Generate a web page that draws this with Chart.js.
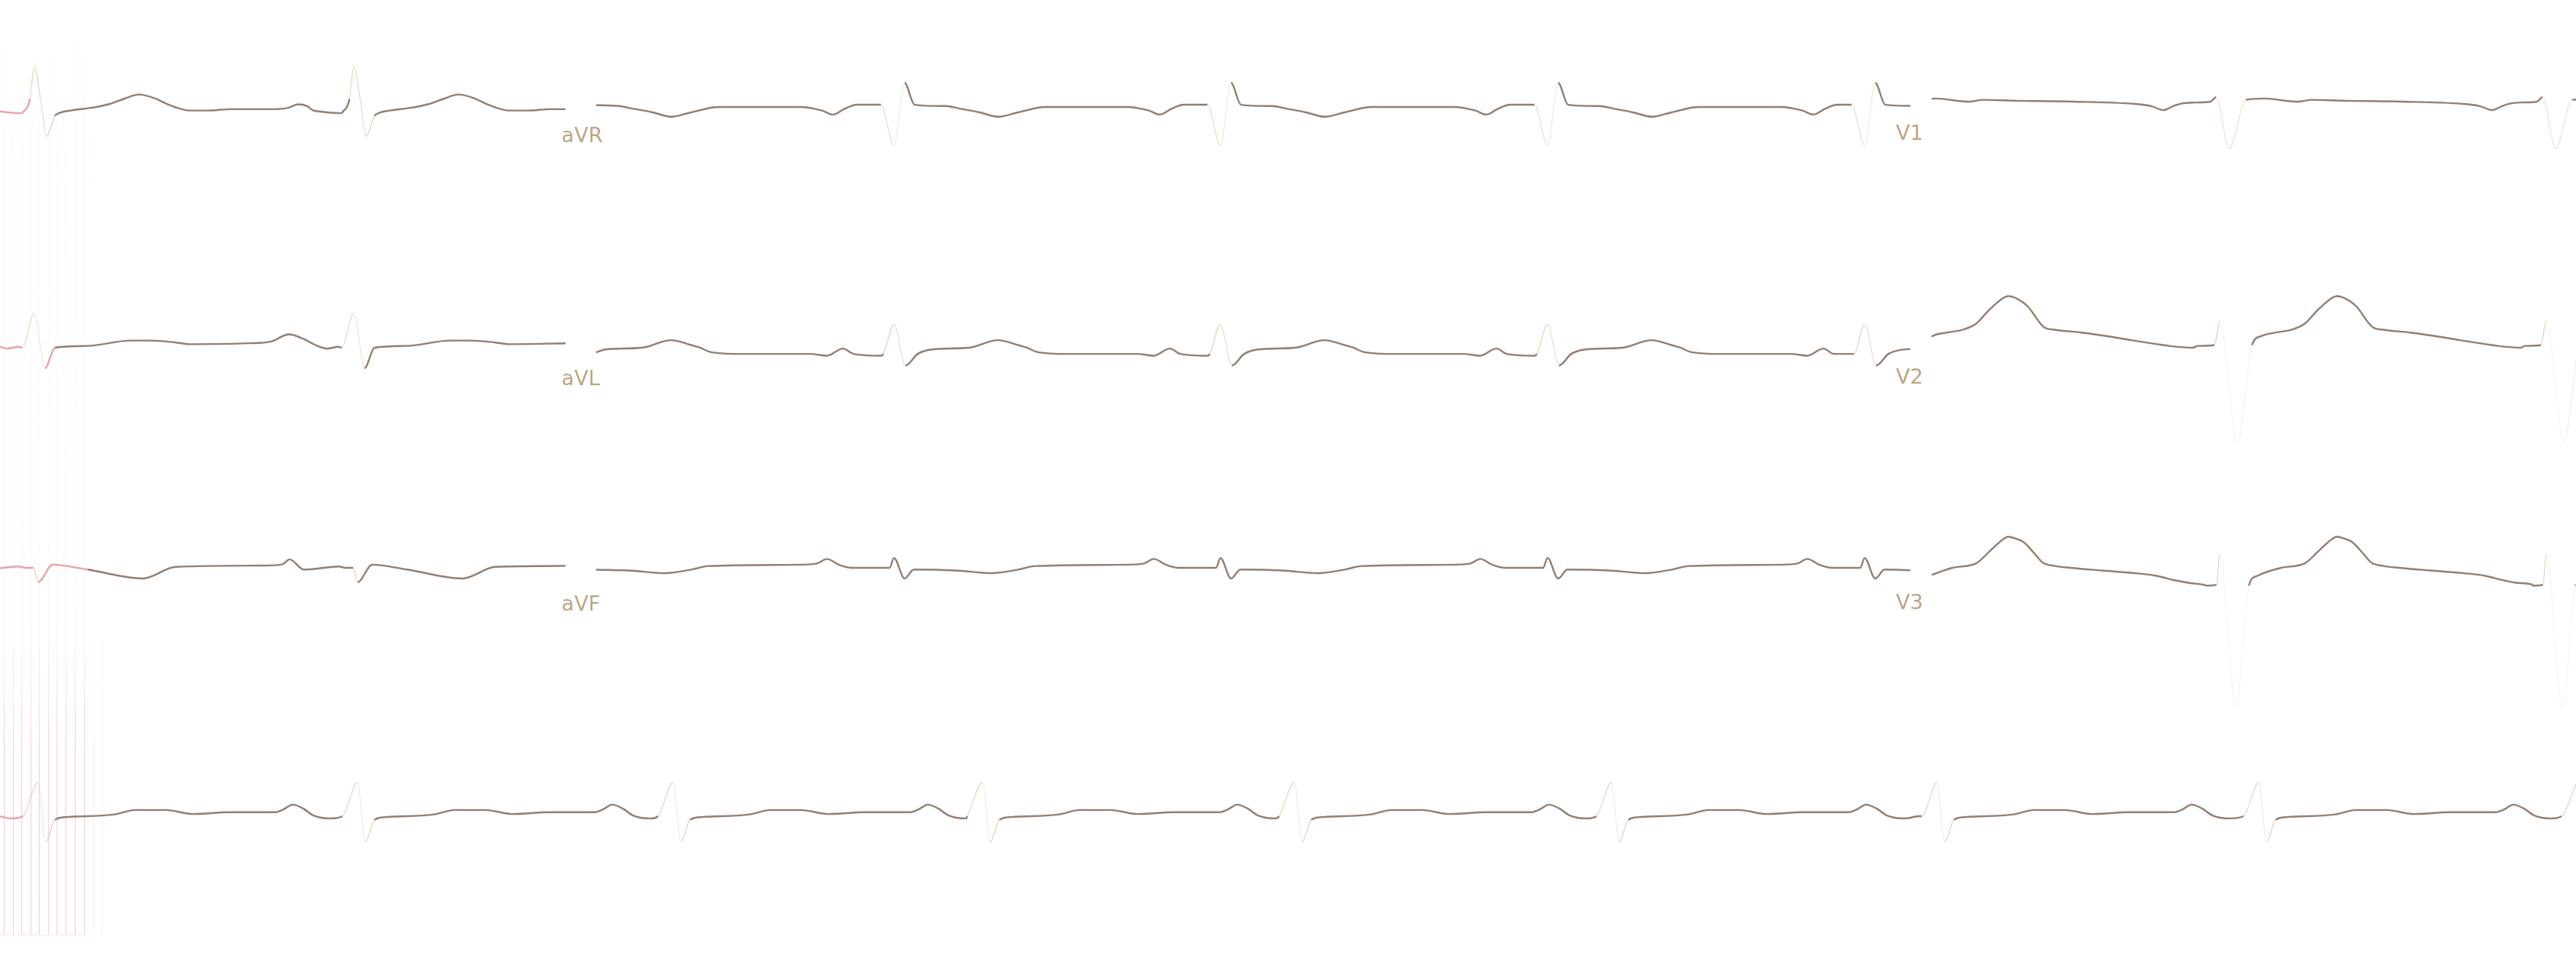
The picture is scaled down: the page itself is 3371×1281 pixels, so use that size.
<!DOCTYPE html>
<html>
<head>
<meta charset="utf-8">
<style>
html,body{margin:0;padding:0;background:#fff;overflow:hidden}
#wrap{position:relative;width:3371px;height:1281px;background:#fff}
canvas{display:block}
</style>
<script src="https://cdn.jsdelivr.net/npm/chart.js@4/dist/chart.umd.min.js"></script>
</head>
<body>
<div id="wrap"><canvas id="ecg" width="3371" height="1281"></canvas></div>
<script>
// ---------------- DATA (time in s / ms, amplitude in mV) ----------------
// Lead layout of the three upper rows (columns 1..3) and the rhythm strip
const ROW_LEADS = [["I", "aVR", "V1"], ["II", "aVL", "V2"], ["III", "aVF", "V3"]];
const RHYTHM_LEAD = "II";
const LEAD_LABELS = ["aVR", "aVL", "aVF", "V1", "V2", "V3"];

// column time spans (s)
const COL_START = [0, 2.690, 8.717];
const COL_END = [2.552, 8.620, 11.624];

// R-wave times (s) read for every column and for the rhythm strip
const COL1_BEATS = [-1.290, 0.155, 1.597];
const COL2_BEATS = [2.559, 4.034, 5.507, 6.983, 8.414];
const COL3_BEATS = [8.534, 10.017, 11.490];
const RHYTHM_BEATS = [-1.269, 0.172, 1.614, 3.038, 4.434, 5.841, 7.272, 8.741, 10.193, 11.628];

// per-beat waveforms: [ms from R, mV]
const LEAD_I = [[-52,0],[-20,0.15],[0,0.52],[28,0.15],[55,-0.27],[93,-0.04],[110,-0.01],[162,0.02],[255,0.05],[334,0.09],[403,0.15],[472,0.20],[541,0.16],[593,0.10],[645,0.05],[697,0.02],[783,0.02],[886,0.035],[1076,0.035],[1145,0.05],[1190,0.09],[1231,0.07],[1255,0.025],[1283,0.01],[1386,-0.01]];
const LEAD_II = [[-55,0],[0,0.39],[48,-0.23],[93,0],[238,0.02],[434,0.08],[528,0.08],[634,0.06],[700,0.04],[966,0.05],[1069,0.07],[1148,0.15],[1214,0.10],[1269,0.03],[1321,-0.01],[1372,0.01]];
const LEAD_III = [[-40,0],[-4,0],[17,-0.16],[83,0.035],[241,-0.02],[489,-0.12],[638,0.01],[1031,0.025],[1120,0.04],[1151,0.095],[1217,-0.02],[1376,0.015]];
const LEAD_AVR = [[-59,0.025],[0,-0.43],[48,0.27],[93,0.025],[234,0.01],[300,-0.02],[386,-0.06],[472,-0.11],[560,-0.06],[683,0],[1055,0],[1150,-0.04],[1200,-0.085],[1252,-0.02],[1307,0.025],[1400,0.025]];
const LEAD_AVL = [[-48,0],[0,0.33],[52,-0.13],[107,0],[172,0.05],[338,0.07],[469,0.155],[560,0.10],[600,0.07],[650,0.02],[790,0],[1100,0],[1172,-0.02],[1245,0.06],[1293,0],[1417,-0.02]];
const LEAD_AVF = [[-79,0],[-20,0],[0,0.11],[48,-0.12],[90,-0.02],[279,-0.03],[440,-0.06],[560,-0.02],[638,0.02],[1052,0.035],[1130,0.05],[1172,0.10],[1230,0.03],[1283,0],[1407,0]];
const LEAD_V1 = [[-117,-0.01],[-42,0],[-17,0.05],[42,-0.53],[117,0.02],[200,0.035],[352,0],[413,0.02],[566,0.01],[821,0],[1093,-0.025],[1173,-0.05],[1228,-0.095],[1273,-0.05],[1311,-0.02],[1383,0]];
const LEAD_V2 = [[-100,0.02],[-25,0.03],[0,0.30],[79,-1.06],[145,0.03],[186,0.13],[250,0.17],[320,0.20],[383,0.27],[440,0.42],[500,0.55],[528,0.58],[560,0.56],[614,0.47],[690,0.23],[745,0.20],[860,0.17],[1000,0.12],[1083,0.085],[1200,0.04],[1255,0.02],[1360,0]];
const LEAD_V3 = [[-60,-0.2],[-15,-0.19],[0,0.15],[72,-1.57],[131,-0.2],[169,-0.09],[276,0],[383,0.05],[450,0.2],[510,0.33],[528,0.35],[560,0.33],[597,0.29],[650,0.15],[683,0.06],[740,0.02],[810,0],[950,-0.03],[1100,-0.06],[1197,-0.09],[1279,-0.14],[1345,-0.17],[1410,-0.19]];
const RHYTHM_II = [[-69,0],[0,0.38],[34,-0.29],[76,-0.04],[128,-0.01],[345,0.02],[438,0.07],[576,0.07],[700,0.025],[862,0.045],[1069,0.045],[1110,0.08],[1148,0.13],[1197,0.085],[1241,0.01],[1321,-0.025],[1390,0]];

// baseline level of each printed segment relative to its row (mV)
const SEG_SHIFT = [[0, 0.06, 0.12], [0, -0.07, 0], [0, 0, 0]];
// calibration grid lines at the left edge (s)
const CAL_GRID_X = [0.017,0.059,0.097,0.138,0.176,0.217,0.255,0.297,0.338,0.379,0.421,0.459];

// ---------------- LAYOUT ----------------
const X_MAX = 11.624, Y_MAX = 11.0;          // paper extent (s, mV)
const ROW_BASE = [9.738, 7.093, 4.620, 1.829]; // stacking offsets of the four rows (mV)
const LABEL_X = [2.534, 8.555];               // label x (s) for columns 2 and 3
const LABEL_DY = [[39, 36], [49, 47], [56, 54]]; // px below row baseline

const TEMPLATES = { I: LEAD_I, II: LEAD_II, III: LEAD_III, aVR: LEAD_AVR, aVL: LEAD_AVL, aVF: LEAD_AVF, V1: LEAD_V1, V2: LEAD_V2, V3: LEAD_V3 };
const COL_BEATS = [COL1_BEATS, COL2_BEATS, COL3_BEATS];

function lerp(a, b, t) { return a[1] + (b[1] - a[1]) * (t - a[0]) / (b[0] - a[0]); }

function buildTrace(tpl, beats, t0, t1, base) {
  const lead = tpl[0][0] / 1000;
  const raw = [];
  beats.forEach((R, i) => {
    const ws = R + lead;
    const we = i + 1 < beats.length ? beats[i + 1] + lead : Infinity;
    tpl.forEach(([ms, v]) => {
      const t = R + ms / 1000;
      if (t >= ws && t < we) raw.push([t, base + v]);
    });
  });
  const out = [];
  for (let k = 0; k < raw.length; k++) {
    const [t, v] = raw[k];
    if (t < t0) {
      if (k + 1 < raw.length && raw[k + 1][0] > t0) out.push({ x: t0, y: lerp(raw[k], raw[k + 1], t0) });
      continue;
    }
    if (t > t1) {
      if (k > 0 && raw[k - 1][0] < t1) out.push({ x: t1, y: lerp(raw[k - 1], raw[k], t1) });
      break;
    }
    out.push({ x: t, y: v });
  }
  return out;
}

const INK = 'rgb(146,127,116)';
const PINK = 'rgba(228,146,152,0.85)';

function steepAlpha(ctx) {
  const dx = Math.abs(ctx.p1.x - ctx.p0.x), dy = Math.abs(ctx.p1.y - ctx.p0.y);
  if (dy > 14 && dy > 2.2 * dx) return Math.max(0.14, Math.min(0.6, 22 / dy));
  return 0;
}
const segStyle = {
  borderColor: ctx => {
    const a = steepAlpha(ctx);
    if (a) return 'rgba(212,176,146,' + a.toFixed(2) + ')';
    return ctx.p0.x < 70 ? PINK : INK;
  },
  borderWidth: ctx => steepAlpha(ctx) ? 1.3 : 2.4
};

const datasets = [];
ROW_LEADS.forEach((row, r) => {
  row.forEach((lead, c) => {
    datasets.push({
      label: lead,
      data: buildTrace(TEMPLATES[lead], COL_BEATS[c], COL_START[c], COL_END[c], ROW_BASE[r] + SEG_SHIFT[r][c]),
      borderColor: INK, borderWidth: 2.4, pointRadius: 0, fill: false,
      cubicInterpolationMode: 'monotone', segment: segStyle
    });
  });
});
datasets.push({
  label: RHYTHM_LEAD + ' rhythm',
  data: buildTrace(RHYTHM_II, RHYTHM_BEATS, 0, X_MAX, ROW_BASE[3]),
  borderColor: INK, borderWidth: 2.4, pointRadius: 0, fill: false,
  cubicInterpolationMode: 'monotone', segment: segStyle
});

const calGrid = {
  id: 'calGrid',
  beforeDatasetsDraw(chart) {
    const { ctx, scales: { x } } = chart;
    const top = 55, bottom = 1223;
    const g = ctx.createLinearGradient(0, top, 0, bottom);
    g.addColorStop(0, 'rgba(245,180,200,0.05)');
    g.addColorStop(0.65, 'rgba(245,170,195,0.12)');
    g.addColorStop(0.80, 'rgba(240,150,180,0.45)');
    g.addColorStop(1, 'rgba(240,150,180,0.45)');
    ctx.save();
    ctx.strokeStyle = g;
    ctx.lineWidth = 1.2;
    CAL_GRID_X.forEach((v, i) => {
      const px = Math.round(x.getPixelForValue(v)) + 0.5;
      ctx.globalAlpha = i < 10 ? 1 : 0.35;
      ctx.beginPath(); ctx.moveTo(px, top); ctx.lineTo(px, bottom); ctx.stroke();
    });
    ctx.globalAlpha = 0.35;
    ctx.strokeStyle = 'rgba(240,150,180,0.6)';
    ctx.beginPath();
    ctx.moveTo(0, bottom + 0.5);
    ctx.lineTo(x.getPixelForValue(CAL_GRID_X[9]), bottom + 0.5);
    ctx.stroke();
    ctx.restore();
  }
};

const leadLabels = {
  id: 'leadLabels',
  afterDatasetsDraw(chart) {
    const { ctx, scales: { x, y } } = chart;
    ctx.save();
    ctx.font = '27px "DejaVu Sans", sans-serif';
    ctx.fillStyle = 'rgb(190,165,132)';
    ctx.textBaseline = 'alphabetic';
    ctx.textAlign = 'left';
    for (let r = 0; r < 3; r++) {
      for (let c = 0; c < 2; c++) {
        const text = LEAD_LABELS[c * 3 + r];
        const px = x.getPixelForValue(LABEL_X[c]);
        const py = y.getPixelForValue(ROW_BASE[r]) + LABEL_DY[r][c];
        ctx.fillText(text, px, py);
      }
    }
    ctx.restore();
  }
};

new Chart(document.getElementById('ecg'), {
  type: 'line',
  data: { datasets },
  options: {
    responsive: false,
    animation: false,
    devicePixelRatio: 1,
    layout: { padding: 0 },
    plugins: { legend: { display: false }, tooltip: { enabled: false } },
    scales: {
      x: { type: 'linear', min: 0, max: X_MAX, display: false },
      y: { type: 'linear', min: 0, max: Y_MAX, display: false }
    }
  },
  plugins: [calGrid, leadLabels]
});
</script>
</body>
</html>
